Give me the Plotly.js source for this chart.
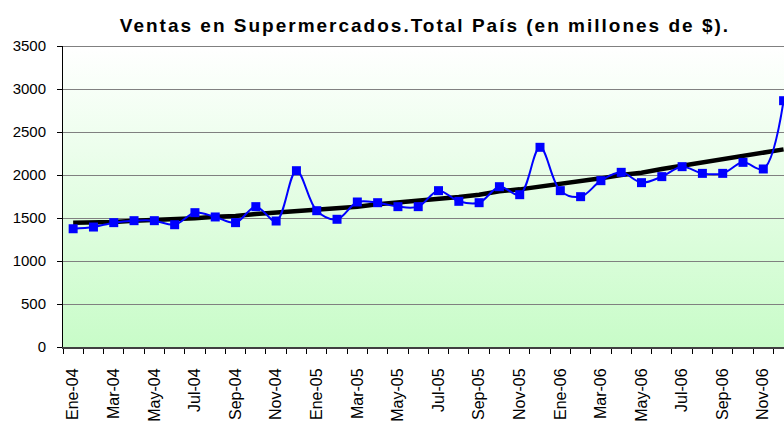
<!DOCTYPE html>
<html>
<head>
<meta charset="utf-8">
<script src="https://cdn.plot.ly/plotly-3.0.1.min.js"></script>
<style>
html,body{margin:0;padding:0;background:#fff;}
#chart{width:784px;height:421px;}
#chart .gtitle{letter-spacing:2px;}
</style>
</head>
<body>
<div id="chart"></div>
<script>
const months = ["Ene-04","Feb-04","Mar-04","Abr-04","May-04","Jun-04","Jul-04","Ago-04","Sep-04","Oct-04","Nov-04","Dic-04",
"Ene-05","Feb-05","Mar-05","Abr-05","May-05","Jun-05","Jul-05","Ago-05","Sep-05","Oct-05","Nov-05","Dic-05",
"Ene-06","Feb-06","Mar-06","Abr-06","May-06","Jun-06","Jul-06","Ago-06","Sep-06","Oct-06","Nov-06","Dic-06"];
const ventas = [1375,1395,1446,1469,1469,1422,1562,1512,1446,1632,1465,2050,
1585,1485,1686,1678,1632,1632,1818,1694,1678,1864,1771,2322,
1818,1748,1934,2031,1911,1981,2097,2019,2019,2147,2070,2864];
const tendencia = [1446,1449,1453,1469,1477,1485,1496,1515,1523,1546,1562,1572,
1593,1605,1632,1659,1678,1698,1721,1744,1771,1810,1833,1864,
1891,1922,1961,2000,2027,2070,2108,2143,2174,2213,2252,2298];
const tickText = months.map((m,i)=> i%2===0 ? m : "");

const gradSvg = '<svg xmlns="http://www.w3.org/2000/svg" width="100" height="100" preserveAspectRatio="none">' +
 '<defs><linearGradient id="g" x1="0" y1="0" x2="0" y2="1"><stop offset="0" stop-color="#ffffff"/><stop offset="1" stop-color="#c8fcc8"/></linearGradient></defs>' +
 '<rect width="100" height="100" fill="url(#g)"/></svg>';
const gradUrl = 'data:image/svg+xml;charset=utf-8,' + encodeURIComponent(gradSvg);

const data = [
 {x: months, y: tendencia, type:'scatter', mode:'lines', line:{color:'#000000', width:4.5}, hoverinfo:'y'},
 {x: months, y: ventas, type:'scatter', mode:'lines+markers', line:{color:'#0000ff', width:2, shape:'spline', smoothing:1},
  marker:{symbol:'square', size:9, color:'#0000ff'}, hoverinfo:'y'}
];
const layout = {
 width:784, height:421, showlegend:false,
 paper_bgcolor:'#ffffff', plot_bgcolor:'rgba(0,0,0,0)',
 margin:{l:63, r:0, t:46, b:74},
 font:{family:'Liberation Sans, Arial, sans-serif', color:'#000'},
 title:{text:'<b>Ventas en Supermercados.Total País (en millones de $).</b>', font:{size:19, family:'Liberation Sans, Arial, sans-serif', color:'#000'},
  x:0.502, xanchor:'center', xref:'paper', y:0.94, yref:'container', yanchor:'middle'},
 xaxis:{type:'category', range:[-0.5, 35.02], tickmode:'array', tickvals:months, ticktext:tickText,
  tickson:'boundaries', ticks:'outside', ticklen:5, tickcolor:'#000', tickangle:-90, tickfont:{size:16},
  ticklabelstandoff:13, showline:true, linecolor:'#404040', linewidth:2, showgrid:false, zeroline:false, fixedrange:true},
 yaxis:{range:[0,3500], dtick:500, tick0:0, ticks:'outside', ticklen:5, tickcolor:'#000', tickfont:{size:15},
  ticklabelstandoff:8, showline:true, linecolor:'#000', linewidth:1, gridcolor:'#808080', gridwidth:1, zeroline:false, fixedrange:true},
 shapes:[{type:'line', xref:'paper', yref:'y', x0:0, x1:1, y0:3500, y1:3500, line:{color:'#808080', width:2}}],
 images:[{source:gradUrl, xref:'paper', yref:'paper', x:0, y:1, sizex:1, sizey:1, sizing:'stretch', xanchor:'left', yanchor:'top', layer:'below'}]
};
Plotly.newPlot('chart', data, layout, {displayModeBar:false, staticPlot:true});
</script>
</body>
</html>
